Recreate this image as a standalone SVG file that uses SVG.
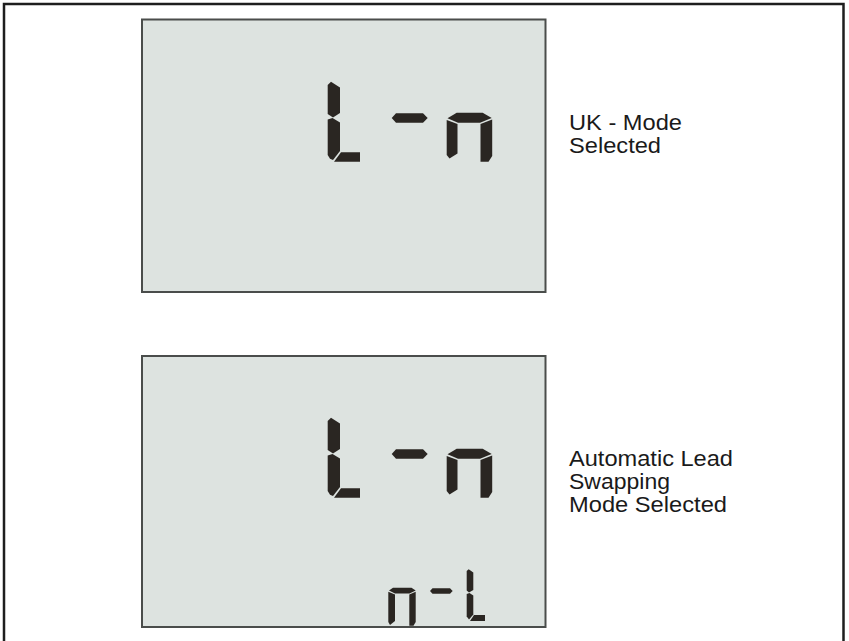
<svg xmlns="http://www.w3.org/2000/svg" width="849" height="641" viewBox="0 0 849 641">
<style>
.bg{fill:#ffffff}
.frame{fill:none;stroke:#1e1e1e;stroke-width:2.5}
.panel{fill:#dde3e0;stroke:#4a4d4b;stroke-width:2}
.seg{fill:#2a2622}
.lbl{font-family:"Liberation Sans",Arial,sans-serif;font-size:22px;fill:#1a1a1a}
</style>
<defs>
<g id="bigLn">
<polygon class="seg" points="327.7,85 331,81.7 340,87.5 340,113 333,117.5 327.7,114"/>
<polygon class="seg" points="327.7,119.5 332.5,118 340,122.5 340,151 333,160 330,158.8 327.7,155"/>
<polygon class="seg" points="341,152.3 360,152.3 360,161.7 334,161.7"/>
<polygon class="seg" points="391.7,118 396,113.3 423,113.3 427.7,118 423,122.7 396,122.7"/>
<polygon class="seg" points="447.5,118.2 456.7,112.7 482.7,112.7 491.7,118 480,122.7 458,122.7"/>
<polygon class="seg" points="446.7,120 457.5,124 457.5,153.5 449.5,158.5 446.7,155"/>
<polygon class="seg" points="480.5,124 492.2,119.5 492.2,156 488.5,161.7 480.5,161.7"/>
</g>
</defs>
<rect class="bg" x="0" y="0" width="849" height="641"/>
<path class="frame" d="M4,645 V4 H843.5 V645"/>
<g id="panel-uk">
<rect class="panel" x="142" y="19.5" width="403.5" height="272.5"/>
<use href="#bigLn"/>
</g>
<g id="label-uk">
<text class="lbl" x="569" y="130" textLength="113" lengthAdjust="spacingAndGlyphs">UK - Mode</text>
<text class="lbl" x="569" y="153" textLength="92" lengthAdjust="spacingAndGlyphs">Selected</text>
</g>
<g id="panel-auto">
<rect class="panel" x="142" y="356" width="403.5" height="271"/>
<use href="#bigLn" transform="translate(0,336)"/>
<polygon class="seg" points="389,590.5 393,587.7 411.5,587.7 415.7,590.5 409.5,593.5 395,593.5"/>
<polygon class="seg" points="388.3,591.8 395,594.5 395,621 390,625 388.3,622"/>
<polygon class="seg" points="409.3,594.5 415.7,591.8 415.7,622 413.5,625.7 409.3,625.7"/>
<polygon class="seg" points="430,591 432.5,588.3 450,588.3 452.7,591 450,593.7 432.5,593.7"/>
<polygon class="seg" points="466.7,571 468.7,569.3 473.3,572.5 473.3,590 469,592.5 466.7,590.5"/>
<polygon class="seg" points="466.7,594 469.5,593 473.3,595.5 473.3,614.5 469,619.5 466.7,616.5"/>
<polygon class="seg" points="474,615 485,615 485,621 470,621"/>
</g>
<g id="label-auto">
<text class="lbl" x="569" y="465.5" textLength="164" lengthAdjust="spacingAndGlyphs">Automatic Lead</text>
<text class="lbl" x="569" y="488.5" textLength="101" lengthAdjust="spacingAndGlyphs">Swapping</text>
<text class="lbl" x="569" y="511.5" textLength="158" lengthAdjust="spacingAndGlyphs">Mode Selected</text>
</g>
<g id="connectors"/>
</svg>
